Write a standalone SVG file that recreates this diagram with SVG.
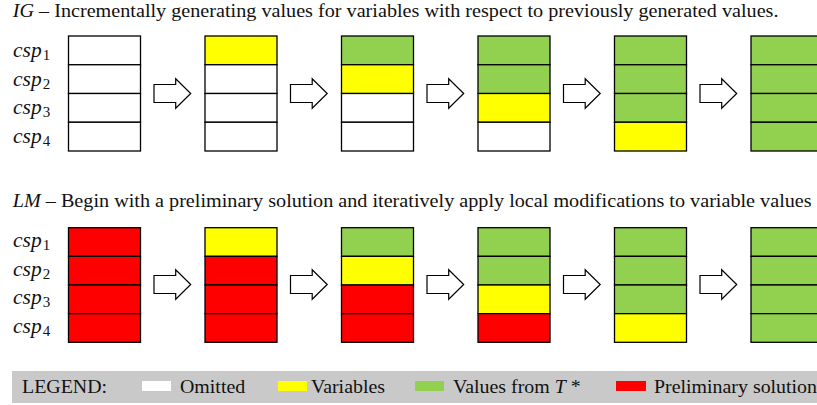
<svg xmlns="http://www.w3.org/2000/svg" xmlns:xlink="http://www.w3.org/1999/xlink" width="817" height="405" viewBox="0 0 817 405">
<style>
.t{font-family:"Liberation Serif","Times New Roman",serif;font-size:18px;fill:#111}
.lg{font-family:"Liberation Serif","Times New Roman",serif;font-size:18.5px;fill:#111}
.csp{font-family:"Liberation Serif","Times New Roman",serif;font-size:21.5px;font-style:italic;fill:#111}
.sub{font-style:normal;font-size:15px}
.c{stroke:#000;stroke-width:1.3}
.W{fill:#fff}.Y{fill:#ffff00}.G{fill:#92d050}.R{fill:#ff0000}
.arr{fill:#fff;stroke:#000;stroke-width:1.2;stroke-linejoin:miter}
</style>
<defs>
<path id="ar" d="M0,-9 H21.7 V-14.8 L36.7,0 L21.7,14.8 V9 H0 Z"/>
</defs>
<rect width="817" height="405" fill="#fff"/>

<text class="t" transform="translate(12.7,17) scale(1.122,1)"><tspan font-style="italic">IG</tspan> – Incrementally generating values for variables with respect to previously generated values.</text>
<text class="t" transform="translate(12.7,207) scale(1.122,1)"><tspan font-style="italic">LM</tspan> – Begin with a preliminary solution and iteratively apply local modifications to variable values</text>

<g id="labels-ig">
<text class="csp" x="13" y="57">csp<tspan class="sub" dx="1" dy="3">1</tspan></text>
<text class="csp" x="13" y="85.5">csp<tspan class="sub" dx="1" dy="3">2</tspan></text>
<text class="csp" x="13" y="114">csp<tspan class="sub" dx="1" dy="3">3</tspan></text>
<text class="csp" x="13" y="142.5">csp<tspan class="sub" dx="1" dy="3">4</tspan></text>
</g>
<g id="labels-lm">
<text class="csp" x="13" y="247">csp<tspan class="sub" dx="1" dy="3">1</tspan></text>
<text class="csp" x="13" y="275.5">csp<tspan class="sub" dx="1" dy="3">2</tspan></text>
<text class="csp" x="13" y="304">csp<tspan class="sub" dx="1" dy="3">3</tspan></text>
<text class="csp" x="13" y="332.5">csp<tspan class="sub" dx="1" dy="3">4</tspan></text>
</g>

<g id="ig1" class="c"><rect class="W" x="68.5" y="36" width="72" height="28.75"/><rect class="W" x="68.5" y="64.75" width="72" height="28.75"/><rect class="W" x="68.5" y="93.5" width="72" height="28.75"/><rect class="W" x="68.5" y="122.25" width="72" height="28.75"/></g>
<g id="ig2" class="c"><rect class="Y" x="205" y="36" width="72" height="28.75"/><rect class="W" x="205" y="64.75" width="72" height="28.75"/><rect class="W" x="205" y="93.5" width="72" height="28.75"/><rect class="W" x="205" y="122.25" width="72" height="28.75"/></g>
<g id="ig3" class="c"><rect class="G" x="341.5" y="36" width="72" height="28.75"/><rect class="Y" x="341.5" y="64.75" width="72" height="28.75"/><rect class="W" x="341.5" y="93.5" width="72" height="28.75"/><rect class="W" x="341.5" y="122.25" width="72" height="28.75"/></g>
<g id="ig4" class="c"><rect class="G" x="478" y="36" width="72" height="28.75"/><rect class="G" x="478" y="64.75" width="72" height="28.75"/><rect class="Y" x="478" y="93.5" width="72" height="28.75"/><rect class="W" x="478" y="122.25" width="72" height="28.75"/></g>
<g id="ig5" class="c"><rect class="G" x="614.5" y="36" width="72" height="28.75"/><rect class="G" x="614.5" y="64.75" width="72" height="28.75"/><rect class="G" x="614.5" y="93.5" width="72" height="28.75"/><rect class="Y" x="614.5" y="122.25" width="72" height="28.75"/></g>
<g id="ig6" class="c"><rect class="G" x="751" y="36" width="72" height="28.75"/><rect class="G" x="751" y="64.75" width="72" height="28.75"/><rect class="G" x="751" y="93.5" width="72" height="28.75"/><rect class="G" x="751" y="122.25" width="72" height="28.75"/></g>

<g id="lm1" class="c"><rect class="R" x="68.5" y="227.7" width="72" height="28.65"/><rect class="R" x="68.5" y="256.35" width="72" height="28.65"/><rect class="R" x="68.5" y="285" width="72" height="28.65"/><rect class="R" x="68.5" y="313.65" width="72" height="28.65"/></g>
<g id="lm2" class="c"><rect class="Y" x="205" y="227.7" width="72" height="28.65"/><rect class="R" x="205" y="256.35" width="72" height="28.65"/><rect class="R" x="205" y="285" width="72" height="28.65"/><rect class="R" x="205" y="313.65" width="72" height="28.65"/></g>
<g id="lm3" class="c"><rect class="G" x="341.5" y="227.7" width="72" height="28.65"/><rect class="Y" x="341.5" y="256.35" width="72" height="28.65"/><rect class="R" x="341.5" y="285" width="72" height="28.65"/><rect class="R" x="341.5" y="313.65" width="72" height="28.65"/></g>
<g id="lm4" class="c"><rect class="G" x="478" y="227.7" width="72" height="28.65"/><rect class="G" x="478" y="256.35" width="72" height="28.65"/><rect class="Y" x="478" y="285" width="72" height="28.65"/><rect class="R" x="478" y="313.65" width="72" height="28.65"/></g>
<g id="lm5" class="c"><rect class="G" x="614.5" y="227.7" width="72" height="28.65"/><rect class="G" x="614.5" y="256.35" width="72" height="28.65"/><rect class="G" x="614.5" y="285" width="72" height="28.65"/><rect class="Y" x="614.5" y="313.65" width="72" height="28.65"/></g>
<g id="lm6" class="c"><rect class="G" x="751" y="227.7" width="72" height="28.65"/><rect class="G" x="751" y="256.35" width="72" height="28.65"/><rect class="G" x="751" y="285" width="72" height="28.65"/><rect class="G" x="751" y="313.65" width="72" height="28.65"/></g>

<g id="connectors" class="arr">
<use xlink:href="#ar" href="#ar" transform="translate(154,93.5)"/>
<use xlink:href="#ar" href="#ar" transform="translate(290.5,93.5)"/>
<use xlink:href="#ar" href="#ar" transform="translate(427,93.5)"/>
<use xlink:href="#ar" href="#ar" transform="translate(563.5,93.5)"/>
<use xlink:href="#ar" href="#ar" transform="translate(700,93.5)"/>
<use xlink:href="#ar" href="#ar" transform="translate(154,284.5)"/>
<use xlink:href="#ar" href="#ar" transform="translate(290.5,284.5)"/>
<use xlink:href="#ar" href="#ar" transform="translate(427,284.5)"/>
<use xlink:href="#ar" href="#ar" transform="translate(563.5,284.5)"/>
<use xlink:href="#ar" href="#ar" transform="translate(700,284.5)"/>
</g>

<g id="legend">
<rect x="12" y="371" width="805" height="32" fill="#c9c9c9"/>
<text class="lg" transform="translate(22,392.5) scale(1.076,1)">LEGEND:</text>
<rect x="142" y="381" width="29" height="10" fill="#fff"/>
<text class="lg" transform="translate(180,392.5) scale(1.076,1)">Omitted</text>
<rect x="278" y="381" width="29" height="10" fill="#ffff00"/>
<text class="lg" transform="translate(311,392.5) scale(1.076,1)">Variables</text>
<rect x="415" y="381" width="29" height="10" fill="#92d050"/>
<text class="lg" transform="translate(453,392.5) scale(1.076,1)">Values from <tspan font-style="italic">T</tspan> *</text>
<rect x="616" y="381" width="30" height="10" fill="#ff0000"/>
<text class="lg" transform="translate(654,392.5) scale(1.076,1)">Preliminary solution</text>
</g>
</svg>
